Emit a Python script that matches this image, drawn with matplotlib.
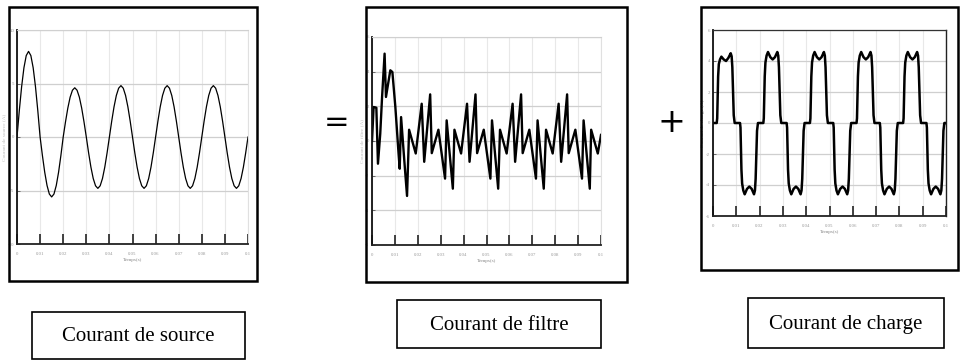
import numpy as np
import matplotlib
matplotlib.use("Agg")
import matplotlib.pyplot as plt
from matplotlib.patches import Rectangle

W, H = 965, 360

# ---------------- data ----------------
src_t = np.arange(0, 101) * 0.001
src_i = [0, 2.47, 4.70, 6.47, 7.61, 8.0, 7.61, 6.47, 4.70, 2.47, 0,
         -1.73, -3.29, -4.53, -5.33, -5.6, -5.33, -4.53, -3.29, -1.73, 0,
         1.42, 2.70, 3.72, 4.37, 4.6, 4.37, 3.72, 2.70, 1.42, 0,
         -1.48, -2.82, -3.88, -4.56, -4.8, -4.56, -3.88, -2.82, -1.48, 0,
         1.48, 2.82, 3.88, 4.56, 4.8, 4.56, 3.88, 2.82, 1.48, 0,
         -1.48, -2.82, -3.88, -4.56, -4.8, -4.56, -3.88, -2.82, -1.48, 0,
         1.48, 2.82, 3.88, 4.56, 4.8, 4.56, 3.88, 2.82, 1.48, 0,
         -1.48, -2.82, -3.88, -4.56, -4.8, -4.56, -3.88, -2.82, -1.48, 0,
         1.48, 2.82, 3.88, 4.56, 4.8, 4.56, 3.88, 2.82, 1.48, 0,
         -1.48, -2.82, -3.88, -4.56, -4.8, -4.56, -3.88, -2.82, -1.48, 0]

# Panel 2: filter current (vertices of the polyline)
flt_t0 = [0.0, 0.0007, 0.0019, 0.0026, 0.0036, 0.0044, 0.0055, 0.0061, 0.0080,
          0.0089, 0.0102, 0.0116, 0.0121, 0.0127, 0.0141, 0.0153]
flt_i0 = [0.0, 1.96, 1.92, -1.31, 0.42, 2.54, 5.04, 2.54, 4.08,
          3.98, 1.96, -0.73, -1.60, 1.38, -1.12, -3.17]
flt_period_starts = [0.0162, 0.0360, 0.0559, 0.0760, 0.0957]
flt_pat_dt = [0.0, 0.0029, 0.0055, 0.0066, 0.0092, 0.0099, 0.0128, 0.0157, 0.0164, 0.0191]
flt_pat_i = [0.65, -0.72, 2.15, -1.2, 2.69, -0.7, 0.65, -2.17, 1.19, -2.75]
flt_end_t, flt_end_i = 0.1, 0.35

# Panel 3: load current, one period template (pos. half; neg. half mirrored)
ld_dt = [0.0, 0.0016, 0.0018, 0.0020, 0.0022, 0.0025, 0.0030, 0.0036, 0.0046,
         0.0056, 0.0066, 0.0076, 0.0080, 0.0083, 0.0086, 0.0089, 0.0093, 0.0100]
ld_first = [0, 0, 0.3, 1.6, 3.0, 3.8, 4.1, 4.28, 4.1, 4.0, 4.2, 4.5, 4.3, 3.6, 2.0, 0.5, 0, 0]
ld_pos = [0, 0, 0.3, 1.6, 3.0, 3.9, 4.35, 4.58, 4.25, 4.1, 4.25, 4.58, 4.35, 3.6, 2.0, 0.5, 0, 0]
ld_neg = [0, 0, -0.3, -1.6, -3.0, -3.9, -4.35, -4.6, -4.25, -4.1, -4.25, -4.6, -4.35, -3.6, -2.0, -0.5, 0, 0]
ld_periods = 5
ld_period = 0.02

xticks = [0, 0.01, 0.02, 0.03, 0.04, 0.05, 0.06, 0.07, 0.08, 0.09, 0.1]
xtick_labels = ["0", "0.01", "0.02", "0.03", "0.04", "0.05", "0.06", "0.07", "0.08", "0.09", "0.1"]
yt1 = [-10, -5, 0, 5, 10]
yt23 = [-6, -4, -2, 0, 2, 4, 6]

labels = ["Courant de source", "Courant de filtre", "Courant de charge"]

# ---------------- build series ----------------
flt_t = list(flt_t0)
flt_i = list(flt_i0)
for s in flt_period_starts:
    for dt, v in zip(flt_pat_dt, flt_pat_i):
        if s + dt < 0.0995:
            flt_t.append(s + dt)
            flt_i.append(v)
flt_t.append(0.0986); flt_i.append(-0.72)
flt_t.append(flt_end_t); flt_i.append(flt_end_i)

ld_t, ld_i = [], []
for k in range(ld_periods):
    pos = ld_first if k == 0 else ld_pos
    for dt, v in zip(ld_dt, pos):
        ld_t.append(k * ld_period + dt); ld_i.append(v)
    for dt, v in zip(ld_dt, ld_neg):
        ld_t.append(k * ld_period + 0.01 + dt); ld_i.append(v)

# ---------------- figure ----------------
fig = plt.figure(figsize=(W / 100, H / 100), dpi=100)
fig.patch.set_facecolor("white")


def px_rect(l, t, r, b):
    return [l / W, 1 - b / H, (r - l) / W, (b - t) / H]


def style_axes(ax, yticks, ylim, ylabel, full_box=False):
    ax.set_xlim(0, 0.1)
    ax.set_ylim(*ylim)
    ax.set_xticks(xticks)
    ax.set_xticklabels(xtick_labels)
    ax.set_yticks(yticks)
    ax.set_yticklabels([str(v) for v in yticks])
    for v in xticks:
        ax.axvline(v, color="#e8e8e8", lw=0.8, zorder=0)
    for v in yticks:
        ax.axhline(v, color="#cfcfcf", lw=0.9, zorder=0)
    ax.tick_params(axis="x", direction="in", length=7, width=1.2, color="#222222",
                   labelsize=3.5, labelcolor="#999999", pad=6)
    ax.tick_params(axis="y", direction="in", length=2, width=0.6, color="#555555",
                   labelsize=3.5, labelcolor="#999999", pad=2)
    for lbl in ax.get_xticklabels() + ax.get_yticklabels():
        lbl.set_family("Liberation Serif")
    ax.spines["left"].set_color("#111111")
    ax.spines["left"].set_linewidth(1.3)
    ax.spines["bottom"].set_color("#222222")
    ax.spines["bottom"].set_linewidth(1.3)
    if full_box:
        ax.spines["top"].set_color("#333333")
        ax.spines["right"].set_color("#222222")
        ax.spines["top"].set_linewidth(0.9)
        ax.spines["right"].set_linewidth(1.0)
    else:
        ax.spines["top"].set_color("#d0d0d0")
        ax.spines["right"].set_color("#e0e0e0")
    ax.set_xlabel("Temps(s)", fontsize=3.8, color="#888888", family="Liberation Serif", labelpad=1)
    ax.set_ylabel(ylabel, fontsize=3.8, color="#bbbbbb", family="Liberation Serif", labelpad=1)


ax1 = fig.add_axes(px_rect(17, 30, 248, 244))
ax1.plot(src_t, src_i, color="black", lw=0.9)
style_axes(ax1, yt1, (-10, 10), "Courant de source (A)")

ax2 = fig.add_axes(px_rect(372, 37, 601, 245))
ax2.plot(flt_t, flt_i, color="black", lw=1.7)
style_axes(ax2, yt23, (-6, 6), "Courant de filtre (A)")

ax3 = fig.add_axes(px_rect(713, 30, 946, 216))
ax3.plot(ld_t, ld_i, color="black", lw=1.8)
style_axes(ax3, yt23, (-6, 6), "Courant de charge (A)", full_box=True)
ax3.yaxis.label.set_color("#777777")

# outer frames
for (l, t, r, b) in [(9, 7, 257, 281), (366, 7, 627, 282), (701, 7, 958, 270)]:
    fig.patches.append(Rectangle((l / W, 1 - b / H), (r - l) / W, (b - t) / H,
                                 transform=fig.transFigure, fill=False,
                                 edgecolor="black", lw=1.8))

# label boxes
boxes = [(32, 312, 245, 359), (397, 300, 601, 348), (748, 298, 944, 348)]
for (l, t, r, b), txt in zip(boxes, labels):
    fig.patches.append(Rectangle((l / W, 1 - b / H), (r - l) / W, (b - t) / H,
                                 transform=fig.transFigure, fill=False,
                                 edgecolor="black", lw=1.2))
    fig.text((l + r) / 2 / W, 1 - ((t + b) / 2 + 1) / H, txt, ha="center", va="center",
             fontsize=15, family="Liberation Serif", color="black")

fig.text(337 / W, 1 - 123 / H, "=", ha="center", va="center", fontsize=22,
         family="DejaVu Sans", color="black")
fig.text(671 / W, 1 - 123 / H, "+", ha="center", va="center", fontsize=24,
         family="DejaVu Sans", color="black")

fig.savefig("out.png", dpi=100, facecolor="white")
